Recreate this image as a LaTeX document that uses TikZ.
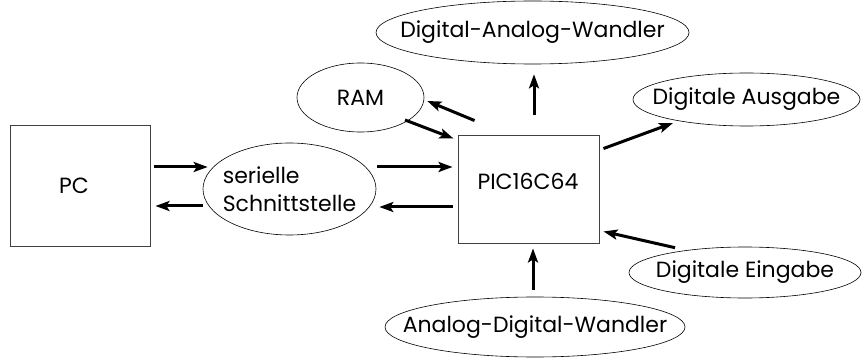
\documentclass[tikz,border=0pt]{standalone}
\usepackage{fontspec}
\setmainfont{Poppins}
\usetikzlibrary{shapes.geometric,arrows.meta,calc}
\begin{document}
\begin{tikzpicture}[x=1pt,y=-1pt,
  lbl/.style={font=\fontsize{22}{28}\selectfont,inner sep=0pt},
  boxnode/.style={draw=black!75,line width=0.9pt,rectangle,inner sep=0pt},
  ell/.style={draw,line width=0.6pt,ellipse,inner sep=0pt},
  arr/.style={line width=3pt,-{Stealth[length=14pt,width=10pt,inset=3pt]}}]
\useasboundingbox (0,0) rectangle (862,358);
% nodes
\node[boxnode,minimum width=140pt,minimum height=121pt,label={[lbl]center:PC\hspace*{12pt}}] (pc) at (80,185.5) {};
\node[ell,minimum width=173pt,minimum height=92pt,label={[lbl,align=left]center:serielle\\Schnittstelle}] (ser) at (289.5,189) {};
\node[boxnode,minimum width=141pt,minimum height=108pt] (pic) at (528.5,189) {};
\node[lbl] (pictext) at (528,181) {PIC16C64};
\node[ell,minimum width=127pt,minimum height=69pt,label={[lbl]center:RAM}] (ram) at (360.5,97.5) {};
\node[ell,minimum width=313pt,minimum height=63pt,label={[lbl]center:Digital-Analog-Wandler}] (daw) at (532.5,32.5) {};
\node[ell,minimum width=227pt,minimum height=53pt,label={[lbl]center:Digitale Ausgabe}] (da) at (746.5,99.5) {};
\node[ell,minimum width=232pt,minimum height=51pt,label={[lbl]center:Digitale Eingabe}] (de) at (745,272.5) {};
\node[ell,minimum width=300pt,minimum height=60pt,label={[lbl]center:Analog-Digital-Wandler}] (adw) at (535,327) {};
% connectors
\draw[arr] ($(pc.east)+(4,-18.5)$) -- ($(ser.west)+(5,-22)$);
\draw[arr] ($(ser.west)+(0,17)$) -- ($(pc.east)+(5,20.5)$);
\draw[arr] ($(ser.east)+(1,-22)$) -- ($(pic.west)+(-5,-22)$);
\draw[arr] ($(pic.west)+(-5,18)$) -- ($(ser.east)+(3,18)$);
\draw[arr] ($(pic.north west)+(17,-14)$) -- ($(ram.east)+(3,3.5)$);
\draw[arr] ($(ram.center)+(44.5,22.5)$) -- ($(pic.north west)+(-4,4)$);
\draw[arr] ($(pic.north)+(5.5,-20)$) -- ($(daw.south)+(1.5,10)$);
\draw[arr] ($(pic.north east)+(4,14)$) -- ($(da.center)+(-73.5,23.5)$);
\draw[arr] ($(de.north)+(-70,1)$) -- ($(pic.south east)+(4,-12)$);
\draw[arr] ($(adw.north)+(-2,-7)$) -- ($(pic.south)+(4.5,5)$);
\end{tikzpicture}
\end{document}
